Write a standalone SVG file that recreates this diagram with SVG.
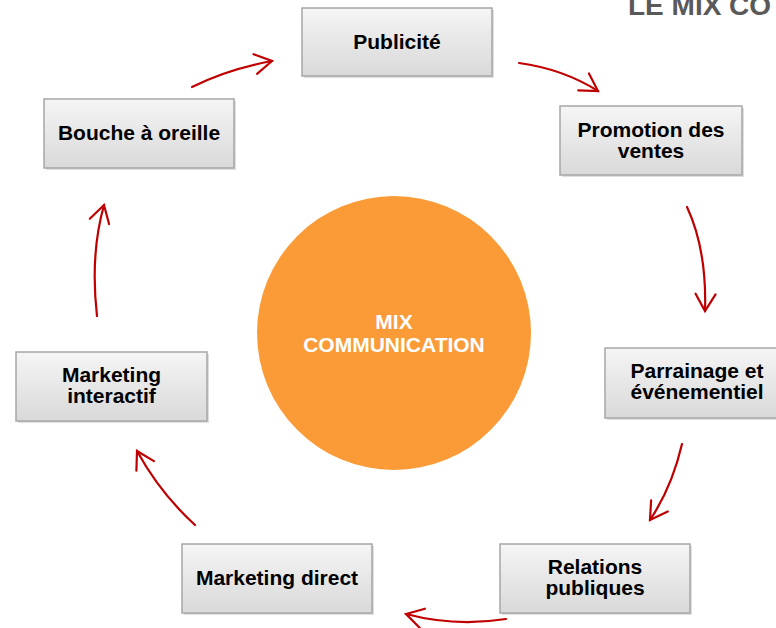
<svg xmlns="http://www.w3.org/2000/svg" width="776" height="628" viewBox="0 0 776 628">
<defs>
<linearGradient id="boxg" x1="0" y1="0" x2="0" y2="1">
<stop offset="0" stop-color="#f5f5f5"/>
<stop offset="1" stop-color="#d9d9d9"/>
</linearGradient>
<marker id="ah" markerUnits="userSpaceOnUse" markerWidth="30" markerHeight="30" viewBox="-20 -15 30 30" refX="0" refY="0" orient="auto">
<path d="M-17,-10 L0,0 L-17,10" fill="none" stroke="#c00000" stroke-width="2.2" stroke-linecap="round" stroke-linejoin="miter"/>
</marker>
</defs>
<style>
.box{fill:url(#boxg);stroke:#a6a6a6;stroke-width:1.5}
.shadow{fill:#bfbfbf;opacity:0.5}
.lbl{font-family:"Liberation Sans",Arial,sans-serif;font-weight:bold;font-size:21px;fill:#000;text-anchor:middle}
.conn{fill:none;stroke:#c00000;stroke-width:2.2;stroke-linecap:round;marker-end:url(#ah)}
.title{font-family:"Liberation Sans",Arial,sans-serif;font-weight:bold;font-size:28px;fill:#595959}
.ctr{font-family:"Liberation Sans",Arial,sans-serif;font-weight:bold;font-size:21px;fill:#fff;text-anchor:middle}
</style>
<rect width="776" height="628" fill="#fff"/>
<text class="title" x="628" y="15">LE MIX CO</text>

<g id="center">
<circle cx="394" cy="333" r="137" fill="#fb9b37"/>
<text class="ctr" x="394" y="329">MIX</text>
<text class="ctr" x="394" y="352">COMMUNICATION</text>
</g>

<g id="publicite">
<rect class="shadow" x="304" y="10" width="190" height="68"/>
<rect class="box" x="302" y="8" width="190" height="68"/>
<text class="lbl" x="397" y="49">Publicité</text>
</g>

<g id="promotion">
<rect class="shadow" x="562" y="108" width="182" height="69"/>
<rect class="box" x="560" y="106" width="182" height="69"/>
<text class="lbl" x="651" y="137">Promotion des</text>
<text class="lbl" x="651" y="158">ventes</text>
</g>

<g id="parrainage">
<rect class="shadow" x="607" y="350" width="183" height="70"/>
<rect class="box" x="605" y="348" width="183" height="70"/>
<text class="lbl" x="697" y="378">Parrainage et</text>
<text class="lbl" x="697" y="399">événementiel</text>
</g>

<g id="relations">
<rect class="shadow" x="502" y="546" width="190" height="69"/>
<rect class="box" x="500" y="544" width="190" height="69"/>
<text class="lbl" x="595" y="574">Relations</text>
<text class="lbl" x="595" y="595">publiques</text>
</g>

<g id="marketing-direct">
<rect class="shadow" x="184" y="546" width="190" height="69"/>
<rect class="box" x="182" y="544" width="190" height="69"/>
<text class="lbl" x="277" y="585">Marketing direct</text>
</g>

<g id="marketing-interactif">
<rect class="shadow" x="18" y="354" width="191" height="69"/>
<rect class="box" x="16" y="352" width="191" height="69"/>
<text class="lbl" x="111.5" y="382">Marketing</text>
<text class="lbl" x="111.5" y="403">interactif</text>
</g>

<g id="bouche">
<rect class="shadow" x="46" y="101" width="190" height="69"/>
<rect class="box" x="44" y="99" width="190" height="69"/>
<text class="lbl" x="139" y="140">Bouche à oreille</text>
</g>

<g id="connectors">
<path class="conn" d="M192,87 Q228,69 272,61"/>
<path class="conn" d="M519,63 Q563,69 598,91"/>
<path class="conn" d="M687,207 Q707,250 705,311"/>
<path class="conn" d="M682,444 Q672,487 650,520"/>
<path class="conn" d="M506,619 Q455,627 406,614"/>
<path class="conn" d="M195,525 Q160,493 137,451"/>
<path class="conn" d="M97,316 Q90,255 104,205"/>
</g>
</svg>
